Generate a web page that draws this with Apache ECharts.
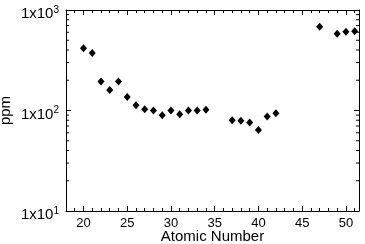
<!DOCTYPE html>
<html><head><meta charset="utf-8">
<script src="https://cdn.jsdelivr.net/npm/echarts@6/dist/echarts.min.js"></script>
<style>html,body{margin:0;padding:0;background:#fff}#c{width:365px;height:244px}</style>
</head><body><div id="c"></div>
<script>
const atomicNumber = [20,21,22,23,24,25,26,27,28,29,30,31,32,33,34,37,38,39,40,41,42,47,49,50,51];
const ppm = [416,373,194,160,194,136,113,103,100,89.5,100,92,100,100,102,80,79,76,64,87,94,682,581,608,614];
const xMin = 18, xMax = 51.5;
const yMin = 10, yMax = 1000;
const yMinorTicks = [20,30,40,50,60,70,80,90,200,300,400,500,600,700,800,900];

const font = 'Liberation Sans, Arial, sans-serif';
const chart = echarts.init(document.getElementById('c'));
const lineStyle = {color:'#000', width:1};
function yFmt(v){ const e = Math.round(Math.log10(v)); return '{b|1x10}{s|' + e + '}'; }
const rich = {b:{fontSize:15, fontFamily:font, color:'#000'}, s:{fontSize:10, fontFamily:font, color:'#000', verticalAlign:'top', padding:[0,0,8,0]}};

chart.setOption({
  animation:false,
  grid:{left:66, top:10, right:6, bottom:33, outerBoundsMode:'none', containLabel:false},
  xAxis:[
    {type:'value', position:'bottom', min:xMin, max:xMax, splitNumber:7,
     axisLine:{lineStyle}, axisTick:{inside:true, length:5, lineStyle},
     splitLine:{show:false},
     axisLabel:{fontSize:13, fontFamily:font, color:'#000', margin:6,
       formatter:v => (v % 5 === 0 ? String(v) : '')},
     name:'Atomic Number', nameLocation:'middle', nameGap:18, nameMoveOverlap:false,
     nameTextStyle:{fontSize:15, fontFamily:font, color:'#000', verticalAlign:'top'}},
    {type:'value', position:'top', min:xMin, max:xMax, splitNumber:7,
     axisLine:{lineStyle}, axisTick:{inside:true, length:5, lineStyle},
     splitLine:{show:false}, axisLabel:{show:false}},
    {type:'value', position:'bottom', min:xMin, max:xMax, interval:1,
     axisLine:{show:false}, axisTick:{inside:true, length:3, lineStyle},
     splitLine:{show:false}, axisLabel:{show:false}},
    {type:'value', position:'top', min:xMin, max:xMax, interval:1,
     axisLine:{show:false}, axisTick:{inside:true, length:3, lineStyle},
     splitLine:{show:false}, axisLabel:{show:false}}
  ],
  yAxis:[
    {type:'log', position:'left', min:yMin, max:yMax, logBase:10,
     axisLine:{lineStyle}, axisTick:{inside:true, length:5, lineStyle},
     splitLine:{show:false},
     axisLabel:{formatter:yFmt, rich, margin:7, padding:[8,0,0,0]},
     name:'ppm', nameLocation:'middle', nameGap:53, nameMoveOverlap:false,
     nameTextStyle:{fontSize:15, fontFamily:font, color:'#000'}},
    {type:'log', position:'right', min:yMin, max:yMax, logBase:10,
     axisLine:{lineStyle}, axisTick:{inside:true, length:5, lineStyle},
     splitLine:{show:false}, axisLabel:{show:false}}
  ],
  series:[{
    type:'scatter', xAxisIndex:0, yAxisIndex:0,
    symbol:'diamond', symbolSize:[7,8],
    itemStyle:{color:'#000', opacity:1},
    data: atomicNumber.map((z,i)=>[z, ppm[i]])
  },{
    type:'custom', xAxisIndex:0, yAxisIndex:0, silent:true, clip:false,
    data: yMinorTicks.map(v=>[xMin, v]),
    renderItem:function(params, api){
      const p = api.coord([xMin, api.value(1)]);
      const q = api.coord([xMax, api.value(1)]);
      return {type:'group', children:[
        {type:'line', shape:{x1:p[0], y1:p[1], x2:p[0]+3, y2:p[1]}, style:{stroke:'#000', lineWidth:1}},
        {type:'line', shape:{x1:q[0], y1:q[1], x2:q[0]-3, y2:q[1]}, style:{stroke:'#000', lineWidth:1}}
      ]};
    }
  }]
});
</script></body></html>
